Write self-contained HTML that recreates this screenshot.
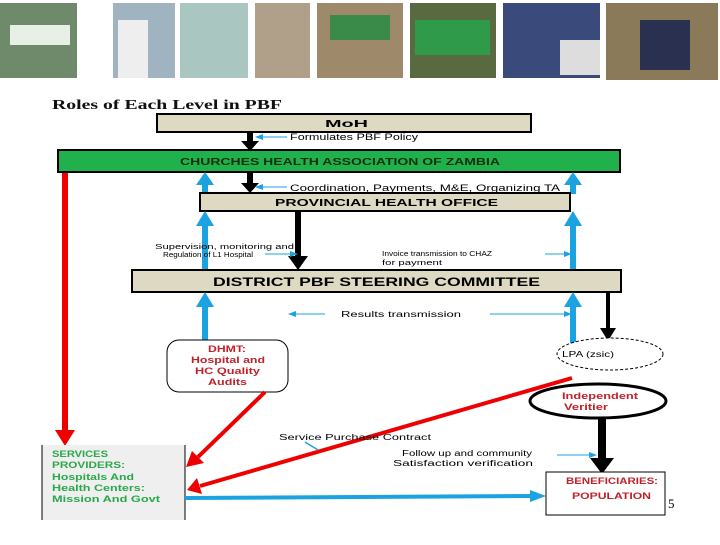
<!DOCTYPE html>
<html><head><style>
body{margin:0;width:720px;height:540px;background:#fff;overflow:hidden}
svg text{font-family:"Liberation Sans",sans-serif}
</style></head><body>
<svg width="720" height="540" viewBox="0 0 720 540" xmlns="http://www.w3.org/2000/svg">
<defs>
<marker id="sb" markerWidth="8" markerHeight="8" refX="7" refY="4" orient="auto" markerUnits="userSpaceOnUse"><path d="M0,1 L8,4 L0,7z" fill="#1aa3e0"/></marker>
</defs>
<!-- photo strip -->
<rect x="0" y="3" width="77" height="75" fill="#6f8a6a"/><rect x="10" y="25" width="60" height="20" fill="#e8efe6"/>
<rect x="113" y="3" width="62" height="75" fill="#9fb3c0"/><rect x="118" y="20" width="30" height="58" fill="#eee"/>
<rect x="180" y="3" width="68" height="75" fill="#a9c7c0"/>
<rect x="255" y="3" width="55" height="75" fill="#b0a08a"/>
<rect x="317" y="3" width="86" height="75" fill="#9e8a6a"/><rect x="330" y="15" width="60" height="25" fill="#3a8a4a"/>
<rect x="410" y="3" width="86" height="75" fill="#5a6a40"/><rect x="415" y="20" width="75" height="35" fill="#2f9a4a"/>
<rect x="503" y="3" width="97" height="75" fill="#3a4a7a"/><rect x="560" y="40" width="40" height="35" fill="#ddd"/>
<rect x="606" y="3" width="112" height="77" fill="#8a7a5a"/><rect x="640" y="20" width="50" height="50" fill="#2a3050"/>
<text x="52" y="109" font-weight="bold" font-size="14" fill="#111" textLength="230" lengthAdjust="spacingAndGlyphs" style="font-family:'Liberation Serif',serif">Roles of Each Level in PBF</text>
<!-- red long line -->
<line x1="65" y1="172" x2="65" y2="432" stroke="#e00" stroke-width="6"/>
<path d="M55,430 L75,430 L65,446z" fill="#e00"/>
<!-- MoH -->
<rect x="157" y="114" width="374" height="18" fill="#ddd9c3" stroke="#000" stroke-width="2"/>
<text x="325" y="127" font-size="10" font-weight="bold" textLength="43" lengthAdjust="spacingAndGlyphs">MoH</text>
<line x1="250" y1="132" x2="250" y2="142" stroke="#000" stroke-width="6"/><path d="M241,141 L259,141 L250,151z" fill="#000"/>
<line x1="287" y1="137" x2="256" y2="137" stroke="#1aa3e0" stroke-width="1" marker-end="url(#sb)"/>
<text x="290" y="140" font-size="9" textLength="128" lengthAdjust="spacingAndGlyphs">Formulates PBF Policy</text>
<!-- CHAZ -->
<rect x="58" y="150" width="562" height="22" fill="#20b04c" stroke="#000" stroke-width="2"/>
<text x="180" y="165" font-size="10" font-weight="bold" fill="#103010" textLength="320" lengthAdjust="spacingAndGlyphs">CHURCHES HEALTH ASSOCIATION OF ZAMBIA</text>
<rect x="202" y="184" width="6" height="10" fill="#1aa3e0"/><path d="M196,185 L214,185 L205,172z" fill="#1aa3e0"/>
<rect x="570" y="184" width="6" height="10" fill="#1aa3e0"/><path d="M564,185 L582,185 L573,172z" fill="#1aa3e0"/>
<line x1="250" y1="172" x2="250" y2="184" stroke="#000" stroke-width="6"/><path d="M241,183 L259,183 L250,193z" fill="#000"/>
<line x1="287" y1="187" x2="256" y2="187" stroke="#1aa3e0" stroke-width="1" marker-end="url(#sb)"/>
<text x="290" y="191" font-size="9" textLength="270" lengthAdjust="spacingAndGlyphs">Coordination, Payments, M&amp;E,  Organizing TA</text>
<!-- PHO -->
<rect x="200" y="193" width="370" height="18" fill="#ddd9c3" stroke="#000" stroke-width="2"/>
<text x="275" y="206" font-size="10" font-weight="bold" textLength="223" lengthAdjust="spacingAndGlyphs">PROVINCIAL HEALTH OFFICE</text>
<rect x="202" y="225" width="6" height="44" fill="#1aa3e0"/><path d="M196,226 L214,226 L205,211z" fill="#1aa3e0"/>
<rect x="570" y="225" width="6" height="45" fill="#1aa3e0"/><path d="M564,226 L582,226 L573,211z" fill="#1aa3e0"/>
<line x1="298" y1="211" x2="298" y2="257" stroke="#000" stroke-width="6"/><path d="M288,256 L308,256 L298,270z" fill="#000"/>
<text x="155" y="249" font-size="7" textLength="139" lengthAdjust="spacingAndGlyphs">Supervision, monitoring and</text>
<text x="163" y="257" font-size="7" textLength="90" lengthAdjust="spacingAndGlyphs">Regulation of L1 Hospital</text>
<line x1="265" y1="254" x2="297" y2="254" stroke="#1aa3e0" stroke-width="1" marker-end="url(#sb)"/>
<text x="382" y="256" font-size="7" textLength="110" lengthAdjust="spacingAndGlyphs">Invoice transmission to CHAZ</text>
<text x="382" y="265" font-size="7" textLength="60" lengthAdjust="spacingAndGlyphs">for payment</text>
<line x1="545" y1="254" x2="571" y2="254" stroke="#1aa3e0" stroke-width="1" marker-end="url(#sb)"/>
<!-- District -->
<rect x="132" y="270" width="489" height="22" fill="#ddd9c3" stroke="#000" stroke-width="2"/>
<text x="213" y="286" font-size="12" font-weight="bold" textLength="327" lengthAdjust="spacingAndGlyphs">DISTRICT PBF STEERING COMMITTEE</text>
<rect x="202" y="306" width="6" height="35" fill="#1aa3e0"/><path d="M196,307 L214,307 L205,292z" fill="#1aa3e0"/>
<rect x="570" y="306" width="6" height="40" fill="#1aa3e0"/><path d="M564,307 L582,307 L573,292z" fill="#1aa3e0"/>
<line x1="608" y1="292" x2="608" y2="330" stroke="#000" stroke-width="4"/><path d="M600,328 L616,328 L608,341z" fill="#000"/>
<line x1="325" y1="314" x2="289" y2="314" stroke="#1aa3e0" stroke-width="1" marker-end="url(#sb)"/>
<text x="341" y="317" font-size="8" textLength="120" lengthAdjust="spacingAndGlyphs">Results transmission</text>
<line x1="490" y1="314" x2="571" y2="314" stroke="#1aa3e0" stroke-width="1" marker-end="url(#sb)"/>
<!-- DHMT -->
<rect x="167" y="340" width="121" height="52" rx="12" fill="#fff" stroke="#000" stroke-width="1"/>
<g font-size="9" font-weight="bold" fill="#c0222a">
<text x="208" y="352" textLength="38" lengthAdjust="spacingAndGlyphs">DHMT:</text>
<text x="191" y="363" textLength="74" lengthAdjust="spacingAndGlyphs">Hospital and</text>
<text x="195" y="374" textLength="65" lengthAdjust="spacingAndGlyphs">HC Quality</text>
<text x="208" y="385" textLength="39" lengthAdjust="spacingAndGlyphs">Audits</text></g>
<!-- LPA -->
<ellipse cx="610" cy="354" rx="53" ry="16" fill="#fff" stroke="#000" stroke-dasharray="3,2"/>
<text x="562" y="357" font-size="8" textLength="52" lengthAdjust="spacingAndGlyphs">LPA (zsic)</text>
<rect x="572" y="396" width="5" height="12" fill="#1aa3e0"/><path d="M567,397 L582,397 L575,388z" fill="#1aa3e0"/>
<line x1="612" y1="392" x2="612" y2="402" stroke="#e00" stroke-width="3"/><path d="M606,400 L618,400 L612,408z" fill="#e00"/>
<!-- Verifier -->
<ellipse cx="598" cy="401" rx="68" ry="17" fill="#fff" stroke="#000" stroke-width="3"/>
<g font-size="9" font-weight="bold" fill="#c0222a"><text x="562" y="399" textLength="76" lengthAdjust="spacingAndGlyphs">Independent</text><text x="564" y="410" textLength="44" lengthAdjust="spacingAndGlyphs">Veritier</text></g>
<line x1="602" y1="418" x2="602" y2="460" stroke="#000" stroke-width="8"/><path d="M590,458 L614,458 L602,474z" fill="#000"/>
<!-- red diagonals -->
<line x1="265" y1="392" x2="198" y2="457" stroke="#e00" stroke-width="4"/><path d="M186,467 L192,451 L204,463z" fill="#e00"/>
<line x1="572" y1="378" x2="200" y2="486" stroke="#e00" stroke-width="4"/><path d="M187,490 L197,478 L202,494z" fill="#e00"/>
<text x="279" y="440" font-size="8" textLength="152" lengthAdjust="spacingAndGlyphs">Service Purchase Contract</text>
<line x1="305" y1="442" x2="318" y2="450" stroke="#1aa3e0" stroke-width="1.5"/>
<text x="402" y="456" font-size="8" textLength="130" lengthAdjust="spacingAndGlyphs">Follow up and community</text>
<text x="393" y="466" font-size="8" textLength="140" lengthAdjust="spacingAndGlyphs">Satisfaction verification</text>
<line x1="557" y1="455" x2="596" y2="455" stroke="#1aa3e0" stroke-width="1" marker-end="url(#sb)"/>
<!-- Service providers -->
<rect x="42" y="445" width="143" height="75" fill="#efefef"/>
<line x1="42" y1="445" x2="42" y2="520" stroke="#000"/><line x1="185" y1="445" x2="185" y2="520" stroke="#000"/>
<g font-size="9" font-weight="bold" fill="#2aa84a">
<text x="52" y="457" textLength="56" lengthAdjust="spacingAndGlyphs">SERVICES</text>
<text x="52" y="468" textLength="73" lengthAdjust="spacingAndGlyphs">PROVIDERS:</text>
<text x="52" y="480" textLength="82" lengthAdjust="spacingAndGlyphs">Hospitals And</text>
<text x="52" y="491" textLength="93" lengthAdjust="spacingAndGlyphs">Health Centers:</text>
<text x="52" y="502" textLength="108" lengthAdjust="spacingAndGlyphs">Mission And Govt</text></g>
<!-- blue bottom arrow -->
<line x1="185" y1="498" x2="533" y2="496" stroke="#1aa3e0" stroke-width="4"/><path d="M530,490 L546,496 L530,502z" fill="#1aa3e0"/>
<!-- beneficiaries -->
<rect x="546" y="472" width="119" height="43" fill="#fff" stroke="#000" stroke-width="1"/>
<g font-size="9" font-weight="bold" fill="#c0222a"><text x="566" y="484" textLength="92" lengthAdjust="spacingAndGlyphs">BENEFICIARIES:</text><text x="572" y="499" textLength="79" lengthAdjust="spacingAndGlyphs">POPULATION</text></g>
<text x="668" y="508" font-size="13" style="font-family:'Liberation Serif',serif">5</text>
</svg>
</body></html>
